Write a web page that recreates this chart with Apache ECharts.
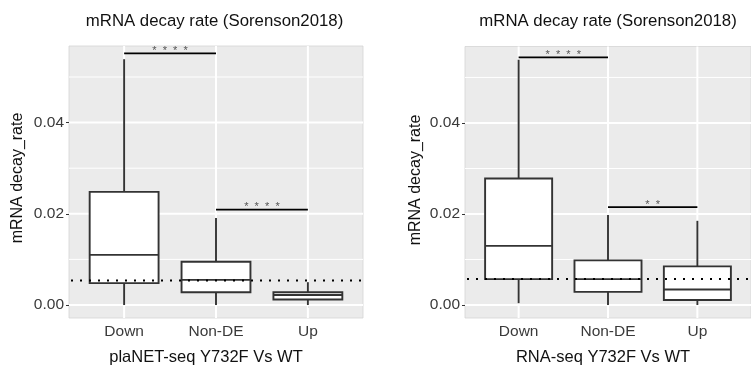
<!DOCTYPE html>
<html><head><meta charset="utf-8">
<script src="https://cdn.jsdelivr.net/npm/echarts@6/dist/echarts.min.js"></script>
<style>html,body{margin:0;padding:0;background:#fff}#c{width:751px;height:365px}</style>
</head><body><div id="c"></div>
<script>
// ---- data ----
const categories = ['Down', 'Non-DE', 'Up'];
const categoryPos = [1, 2, 3];
// each row: [low whisker, Q1, median, Q3, high whisker]
const planetBoxes = [
  [0.0000, 0.0048, 0.0110, 0.0248, 0.0539],
  [0.0000, 0.0028, 0.0055, 0.0095, 0.0191],
  [0.0000, 0.0012, 0.0022, 0.0028, 0.0050]
];
const rnaBoxes = [
  [0.0004, 0.0057, 0.0130, 0.0278, 0.0539],
  [0.0000, 0.0029, 0.0057, 0.0098, 0.0198],
  [0.0000, 0.0011, 0.0034, 0.0085, 0.0185]
];
const planetRef = 0.0054;
const rnaRef = 0.0057;
// [from category, to category, y, label]
const planetSig = [[1, 2, 0.0552, '****'], [2, 3, 0.0209, '****']];
const rnaSig = [[1, 2, 0.0544, '****'], [2, 3, 0.0215, '**']];
const yTicks = [0, 0.02, 0.04];
const yGridMajor = [0, 0.02, 0.04];
const yGridMinor = [0.01, 0.03, 0.05];
const plotTitle = 'mRNA decay rate (Sorenson2018)';
const yTitle = 'mRNA decay_rate';
const xTitles = ['plaNET-seq Y732F Vs WT', 'RNA-seq Y732F Vs WT'];

// ---- rendering ----
const FONT = '"Liberation Sans", Arial, Helvetica, sans-serif';
const chart = echarts.init(document.getElementById('c'), null, {renderer: 'canvas'});
const YMIN = -0.00285, YMAX = 0.0568;

function xAxisCfg(gi) {
  return {
    type: 'value', gridIndex: gi, min: 0.4, max: 3.6,
    axisLine: {show: false},
    splitLine: {show: false},
    axisTick: {show: true, customValues: categoryPos, length: 3, lineStyle: {color: '#333', width: 1}},
    axisLabel: {customValues: categoryPos, formatter: v => categories[Math.round(v) - 1],
      color: '#3a3a3a', fontSize: 15.5, fontFamily: FONT, margin: 6}
  };
}
function yAxisCfg(gi) {
  return {
    type: 'value', gridIndex: gi, min: YMIN, max: YMAX,
    axisLine: {show: false},
    splitLine: {show: false},
    axisTick: {show: true, customValues: yTicks, length: 3, lineStyle: {color: '#333', width: 1}},
    axisLabel: {customValues: yTicks, formatter: v => v.toFixed(2),
      color: '#3a3a3a', fontSize: 15.5, fontFamily: FONT, margin: 5}
  };
}

function gridSeries(gi) {
  const data = [];
  yGridMajor.forEach(v => data.push([0, v, 2.0, 0]));
  yGridMinor.forEach(v => data.push([0, v, 1.0, 0]));
  categoryPos.forEach(v => data.push([v, 0, 2.0, 1]));
  return {
    type: 'custom', xAxisIndex: gi, yAxisIndex: gi, z: 1, silent: true,
    encode: {x: 0, y: 1},
    data: data,
    renderItem: function (params, api) {
      const cs = params.coordSys;
      const w = api.value(2);
      if (api.value(3) === 0) {
        const p = api.coord([1, api.value(1)]);
        return {type: 'line', shape: {x1: cs.x, y1: p[1], x2: cs.x + cs.width, y2: p[1]},
          style: {stroke: '#ffffff', lineWidth: w}};
      }
      const p = api.coord([api.value(0), 0]);
      return {type: 'line', shape: {x1: p[0], y1: cs.y, x2: p[0], y2: cs.y + cs.height},
        style: {stroke: '#ffffff', lineWidth: w}};
    }
  };
}

function boxSeries(gi, boxes) {
  return {
    type: 'custom', xAxisIndex: gi, yAxisIndex: gi, z: 2, silent: true,
    encode: {x: 0, y: [1, 2, 3, 4, 5]},
    data: boxes.map((b, i) => [categoryPos[i]].concat(b)),
    renderItem: function (params, api) {
      const x = api.value(0), hw = 0.375;
      const low = api.coord([x, api.value(1)]);
      const q1 = api.coord([x, api.value(2)]);
      const q3 = api.coord([x, api.value(4)]);
      const hi = api.coord([x, api.value(5)]);
      const bl = api.coord([x - hw, api.value(2)]);
      const tr = api.coord([x + hw, api.value(4)]);
      const ml = api.coord([x - hw, api.value(3)]);
      const mr = api.coord([x + hw, api.value(3)]);
      const st = {stroke: '#333333', lineWidth: 1.9, fill: null};
      return {type: 'group', children: [
        {type: 'line', shape: {x1: hi[0], y1: hi[1], x2: q3[0], y2: q3[1]}, style: st},
        {type: 'line', shape: {x1: q1[0], y1: q1[1], x2: low[0], y2: low[1]}, style: st},
        {type: 'rect', shape: {x: bl[0], y: tr[1], width: tr[0] - bl[0], height: bl[1] - tr[1]},
          style: {fill: '#ffffff', stroke: '#333333', lineWidth: 1.9}},
        {type: 'line', shape: {x1: ml[0], y1: ml[1], x2: mr[0], y2: mr[1]}, style: st}
      ]};
    }
  };
}

function refSeries(gi, ref) {
  return {
    type: 'custom', xAxisIndex: gi, yAxisIndex: gi, z: 3, silent: true,
    encode: {x: 0, y: 1},
    data: [[2, ref]],
    renderItem: function (params, api) {
      const cs = params.coordSys;
      const p = api.coord([2, api.value(1)]);
      return {type: 'line', shape: {x1: cs.x + 2, y1: p[1], x2: cs.x + cs.width, y2: p[1]},
        style: {stroke: '#000000', lineWidth: 2, lineDash: [2, 7]}};
    }
  };
}

function sigSeries(gi, sig) {
  return {
    type: 'custom', xAxisIndex: gi, yAxisIndex: gi, z: 4, silent: true,
    encode: {x: [0, 2], y: 1},
    data: sig.map(s => [s[0], s[2], s[1], s[3]]),
    renderItem: function (params, api) {
      const y = api.value(1);
      const a = api.coord([api.value(0), y]);
      const b = api.coord([api.value(2), y]);
      const txt = String(sig[params.dataIndex][3]).split('').join('  ');
      return {type: 'group', children: [
        {type: 'line', shape: {x1: a[0], y1: a[1], x2: b[0], y2: b[1]},
          style: {stroke: '#000000', lineWidth: 1.8}},
        {type: 'text', style: {text: txt, x: (a[0] + b[0]) / 2, y: a[1] + 3,
          align: 'center', verticalAlign: 'bottom', fill: '#555555',
          font: '11px ' + FONT}}
      ]};
    }
  };
}

function txt(t, x, y, size, rot) {
  return {type: 'text', x: x, y: y, rotation: rot || 0, silent: true,
    style: {text: t, fill: '#111111', font: size + 'px ' + FONT, align: 'center', verticalAlign: 'middle'}};
}

const option = {
  backgroundColor: '#ffffff',
  animation: false,
  grid: [
    {left: 69, top: 46, width: 294, height: 272, show: true, backgroundColor: '#EBEBEB', borderColor: '#d4d4d4', borderWidth: 0.8},
    {left: 465, top: 46.5, width: 294, height: 271.5, show: true, backgroundColor: '#EBEBEB', borderColor: '#d4d4d4', borderWidth: 0.8}
  ],
  xAxis: [xAxisCfg(0), xAxisCfg(1)],
  yAxis: [yAxisCfg(0), yAxisCfg(1)],
  series: [
    gridSeries(0), boxSeries(0, planetBoxes), refSeries(0, planetRef), sigSeries(0, planetSig),
    gridSeries(1), boxSeries(1, rnaBoxes), refSeries(1, rnaRef), sigSeries(1, rnaSig)
  ],
  graphic: [
    txt(plotTitle, 214.5, 21, 16.8),
    txt(plotTitle, 608, 21, 16.8),
    txt(xTitles[0], 206, 357, 16.5),
    txt(xTitles[1], 603, 357, 16.5),
    txt(yTitle, 18, 178, 16, Math.PI / 2),
    txt(yTitle, 415.5, 180, 16, Math.PI / 2)
  ]
};
chart.setOption(option);
</script>
</body></html>
